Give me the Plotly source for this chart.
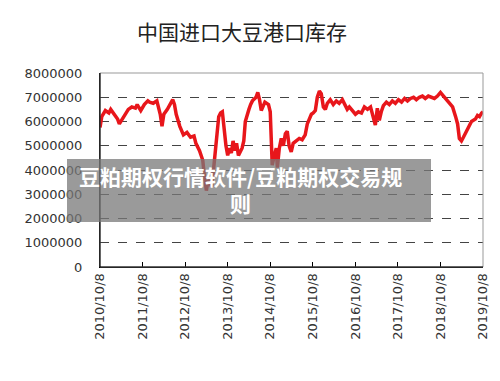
import plotly.graph_objects as go

title_text = "中国进口大豆港口库存"
watermark_text = "豆粕期权行情软件/豆粕期权交易规<br>则"

dates = [
    "2010-10-08", "2010-10-23", "2010-11-23", "2010-12-23", "2011-01-08", "2011-02-08",
    "2011-03-08", "2011-03-23", "2011-04-23", "2011-05-23", "2011-06-08", "2011-07-08",
    "2011-08-08", "2011-08-23", "2011-09-23", "2011-10-23", "2011-11-23", "2011-12-08",
    "2012-01-08", "2012-02-08", "2012-02-23", "2012-03-08", "2012-03-23", "2012-04-08",
    "2012-05-08", "2012-06-08", "2012-06-23", "2012-07-08", "2012-07-23", "2012-08-23",
    "2012-09-08", "2012-09-23", "2012-10-23", "2012-11-23", "2012-12-23", "2013-01-08",
    "2013-02-08", "2013-03-08", "2013-03-23", "2013-04-08", "2013-04-23", "2013-05-23",
    "2013-06-08", "2013-06-23", "2013-07-08", "2013-07-23", "2013-08-08", "2013-08-23",
    "2013-09-23", "2013-10-08", "2013-10-23", "2013-11-08", "2013-11-23", "2013-12-08",
    "2013-12-23", "2014-01-08", "2014-02-08", "2014-02-23", "2014-03-08", "2014-03-23",
    "2014-04-08", "2014-04-23", "2014-05-08", "2014-06-08", "2014-06-23", "2014-07-08",
    "2014-07-23", "2014-08-23", "2014-09-08", "2014-09-23", "2014-10-08", "2014-10-15",
    "2014-10-25", "2014-11-12", "2014-11-29", "2014-12-08", "2014-12-25", "2015-01-11",
    "2015-01-28", "2015-02-15", "2015-03-03", "2015-03-19", "2015-04-06", "2015-04-23",
    "2015-05-18", "2015-06-14", "2015-07-09", "2015-08-04", "2015-08-22", "2015-09-08",
    "2015-09-26", "2015-10-12", "2015-10-30", "2015-11-16", "2015-12-04", "2015-12-20",
    "2016-01-07", "2016-01-24", "2016-02-10", "2016-03-06", "2016-04-01", "2016-04-27",
    "2016-05-22", "2016-06-18", "2016-07-13", "2016-07-30", "2016-08-17", "2016-09-12",
    "2016-10-08", "2016-11-03", "2016-11-29", "2016-12-24", "2017-01-20", "2017-02-15",
    "2017-03-10", "2017-03-28", "2017-04-14", "2017-05-01", "2017-05-18", "2017-06-05",
    "2017-07-01", "2017-07-26", "2017-08-21", "2017-09-16", "2017-10-12", "2017-11-08",
    "2017-12-04", "2017-12-29", "2018-01-24", "2018-02-19", "2018-03-15", "2018-04-10",
    "2018-05-06", "2018-05-31", "2018-06-26", "2018-07-22", "2018-08-17", "2018-09-12",
    "2018-10-08", "2018-11-03", "2018-11-29", "2018-12-24", "2019-01-20", "2019-02-15",
    "2019-03-04", "2019-03-19", "2019-04-06", "2019-04-23", "2019-05-10", "2019-05-27",
    "2019-06-14", "2019-07-01", "2019-07-18", "2019-08-04", "2019-08-22", "2019-09-08",
    "2019-09-26", "2019-10-08",
]

stock_million = [
    5.75, 6.2, 6.45, 6.35, 6.5, 6.3,
    6.1, 5.9, 6.15, 6.35, 6.5, 6.6,
    6.55, 6.7, 6.45, 6.7, 6.85, 6.8,
    6.75, 6.85, 6.6, 6.3, 5.8, 6.3,
    6.5, 6.75, 6.9, 6.7, 6.3, 5.8,
    5.6, 5.45, 5.55, 5.35, 5.4, 5.1,
    4.8, 4.4, 3.7, 3.15, 3.6, 3.3,
    4.0, 4.8, 5.6, 6.2, 6.35, 6.4,
    5.0, 4.6, 4.9, 4.7, 5.2, 4.8,
    5.1, 4.6, 4.9, 5.2, 6.0, 6.3,
    6.5, 6.7, 6.85, 7.0, 7.2, 6.9,
    6.45, 6.8, 6.75, 6.7, 6.4, 5.2,
    4.2, 4.6, 4.9, 4.1, 4.9, 5.3,
    5.0, 5.5, 5.6, 5.0, 4.75, 5.1,
    5.2, 5.3, 5.25, 5.45, 5.9, 6.1,
    6.3, 6.35, 6.45, 7.0, 7.25, 7.15,
    6.6, 6.5, 6.75, 6.9, 6.7, 6.85,
    6.75, 6.9, 6.7, 6.5, 6.6, 6.45,
    6.3, 6.4, 6.35, 6.6, 6.5, 6.6,
    6.2, 5.85, 6.55, 6.05, 6.4, 6.65,
    6.8, 6.7, 6.85, 6.75, 6.9, 6.8,
    6.95, 6.85, 6.95, 7.0, 6.9, 7.0,
    7.05, 6.95, 7.05, 7.0, 6.95, 7.05,
    7.2, 7.05, 6.9, 6.8, 6.6, 6.2,
    5.9, 5.3, 5.2, 5.35, 5.5, 5.7,
    5.8, 6.0, 6.05, 6.1, 6.25, 6.2,
    6.35, 6.4,
]

tick_dates = ["2010-10-08", "2011-10-08", "2012-10-08", "2013-10-08", "2014-10-08",
              "2015-10-08", "2016-10-08", "2017-10-08", "2018-10-08", "2019-10-08"]
tick_labels = ["2010/10/8", "2011/10/8", "2012/10/8", "2013/10/8", "2014/10/8",
               "2015/10/8", "2016/10/8", "2017/10/8", "2018/10/8", "2019/10/8"]
y_ticks = [0, 1000000, 2000000, 3000000, 4000000, 5000000, 6000000, 7000000, 8000000]

values = [v * 1000000 for v in stock_million]

fig = go.Figure()
fig.add_trace(go.Scatter(
    x=dates, y=values, mode="lines",
    line=dict(color="#e8161b", width=3.5),
    showlegend=False, hoverinfo="skip",
))

axis_font = dict(family="DejaVu Sans", size=13, color="#333333")

fig.update_layout(
    width=500, height=381,
    margin=dict(l=92, r=25, t=65, b=122),
    paper_bgcolor="white", plot_bgcolor="white",
    title=dict(text=title_text, x=234 / 500, xanchor="center", y=1 - 25 / 381, yanchor="middle",
               font=dict(family="Noto Sans CJK SC", size=21, color="#222222")),
    xaxis=dict(
        type="date", range=["2010-10-08", "2019-10-08"],
        tickvals=tick_dates, ticktext=tick_labels, tickangle=-90,
        tickfont=axis_font, ticks="inside", ticklen=5, tickcolor="#000000",
        showgrid=False, showline=True, linecolor="#000000", linewidth=1,
        zeroline=False,
    ),
    yaxis=dict(
        range=[0, 8000000], tickvals=y_ticks, tickformat="d",
        tickfont=axis_font, ticks="", ticklabelstandoff=14,
        showgrid=True, gridcolor="#444444", griddash="dash", gridwidth=1,
        showline=True, linecolor="#000000", linewidth=1, zeroline=False,
    ),
    shapes=[
        dict(type="rect", xref="paper", yref="paper", x0=0, x1=1, y0=0, y1=1,
             line=dict(color="#999999", width=1), fillcolor="rgba(0,0,0,0)", layer="above"),
        dict(type="line", xref="paper", yref="paper", x0=0, x1=0, y0=0, y1=1,
             line=dict(color="#000000", width=1), layer="above"),
        dict(type="line", xref="paper", yref="paper", x0=0, x1=1, y0=0, y1=0,
             line=dict(color="#000000", width=1), layer="above"),
        dict(type="rect", xref="paper", yref="paper",
             x0=(67 - 100) / 383, x1=(431 - 100) / 383,
             y0=(267 - 222) / 194, y1=(267 - 159) / 194,
             line=dict(width=0), fillcolor="rgba(120,120,120,0.75)", layer="above"),
    ],
    annotations=[
        dict(text=watermark_text, xref="paper", yref="paper",
             x=(240 - 100) / 383, y=(267 - 189) / 194, xanchor="center", yanchor="middle",
             showarrow=False, align="center",
             font=dict(family="Noto Sans CJK SC", size=21, color="white", weight="bold")),
    ],
)

fig.write_html("out.html")
